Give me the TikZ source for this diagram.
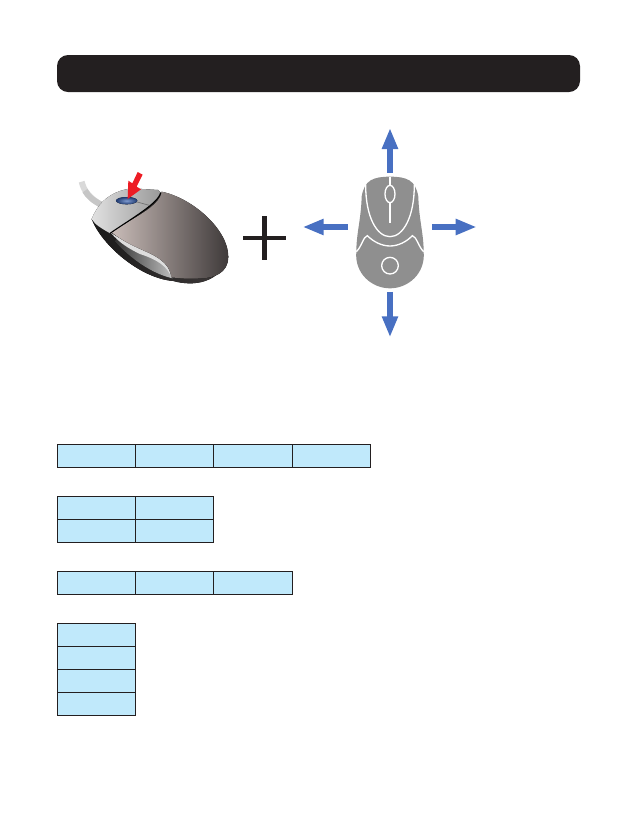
\documentclass[tikz,border=0pt]{standalone}
\usepackage{tikz}
\usepackage{xcolor}
\usetikzlibrary{arrows.meta}
\definecolor{bannerblack}{HTML}{231F20}
\definecolor{cellblue}{HTML}{C0E9FB}
\definecolor{movegray}{HTML}{8F8F8F}
\definecolor{moveblue}{HTML}{4870C2}
\definecolor{clickred}{HTML}{ED1C24}
\definecolor{bodylight}{HTML}{C9BCB8}
\definecolor{bodymid}{HTML}{86797A}
\definecolor{bodydark}{HTML}{3F3A3A}
\definecolor{buttonlight}{HTML}{7F9BD0}
\definecolor{buttondark}{HTML}{1F3A70}
\newcommand\cellw{78.3}
\newcommand\cellh{23}
\newcommand\startleft{57.3}
\tikzset{
    zoomed/.style = {x=0.02cm/3, y=-0.02cm/3},
    tablecell/.style = {draw=bannerblack, fill=cellblue, line width=0.6pt},
    movearrow/.style = {moveblue, line width=0.12cm, -{Triangle[width=0.3cm,length=0.42cm]}},
    whiteline/.style = {white, line width=0.75pt},
}
\begin{document}
\begin{tikzpicture}[x=0.02cm,y=-0.02cm]
         \useasboundingbox (0,0) rectangle (633,816);
         % --- Banner
         \fill[bannerblack, rounded corners=0.22cm] (57,55) rectangle (580,92);
         % --- Photo of the mouse
         \begin{scope}[shift={(60,150)},zoomed]
           % --- Cable
           \draw[white!85!black, line width=0.12cm] (65,95) .. controls (72,125) and (90,145) .. (125,165);
           \draw[gray!45, line width=0.12cm] (75,122) .. controls (85,140) and (100,152) .. (125,165);
           % --- Dark base
           \fill[left color=black!90, right color=bodydark] (95,207) .. controls (125,285) and (240,385) .. (340,393) .. controls (400,410) and (480,400) .. (505,320) -- (300,130) -- cycle;
           \fill[left color=black!80, right color=black!25] (165,275) .. controls (225,340) and (290,375) .. (338,385) -- (325,340) -- (170,255) -- cycle;
           \fill[black!13] (152,248) .. controls (210,285) and (250,300) .. (295,318) .. controls (325,335) and (332,360) .. (334,382) .. controls (322,350) and (295,330) .. (240,312) .. controls (205,295) and (180,280) .. (152,248) -- cycle;
           % --- Brown body
           \fill[left color=bodylight, middle color=bodymid, right color=bodydark] (305,125) .. controls (400,145) and (505,240) .. (505,320) .. controls (505,370) and (460,385) .. (420,385) .. controls (390,388) and (360,385) .. (334,382) .. controls (330,350) and (310,330) .. (270,310) .. controls (225,290) and (190,275) .. (155,247) .. controls (215,205) and (300,170) .. (305,125) -- cycle;
           % --- Light shell
           \fill[left color=black!12, right color=black!40] (95,207) .. controls (110,170) and (140,125) .. (215,115) -- (295,120) -- (302,128) .. controls (295,160) and (215,205) .. (150,250) .. controls (125,235) and (105,225) .. (95,207) -- cycle;
           \draw[black, line width=0.6pt] (302,128) .. controls (295,160) and (215,205) .. (150,250);
           \draw[black!55, line width=0.4pt] (228,155) -- (268,166);
           % --- Wheel and red arrow
           \fill[inner color=buttonlight, outer color=buttondark] (200,152) ellipse [x radius=32, y radius=11];
           \fill[clickred] (203,147) -- (205,92) -- (217,100) -- (233,66) -- (248,74) -- (230,110) -- (243,118) -- cycle;
         \end{scope}
         % --- Plus sign
         \draw[bannerblack, line width=0.094cm] (243,238) -- (286,238);
         \draw[bannerblack, line width=0.094cm] (264.5,216) -- (264.5,260);
         % --- Grey mouse with its arrows
         \begin{scope}[shift={(295,120)},zoomed]
           \fill[movegray] (285,170) .. controls (335,170) and (362,180) .. (370,230) .. controls (372,300) and (386,340) .. (386,395) .. controls (392,460) and (340,505) .. (285,505) .. controls (230,505) and (178,460) .. (184,395) .. controls (184,340) and (198,300) .. (200,230) .. controls (208,180) and (235,170) .. (285,170) -- cycle;
           \draw[whiteline] (212,195) .. controls (212,290) and (245,350) .. (285,350) .. controls (325,350) and (358,290) .. (358,195);
           \draw[whiteline] (285,170) -- (285,310);
           \draw[whiteline, fill=movegray] (285,222) ellipse [x radius=15, y radius=26];
           \draw[whiteline] (184,395) .. controls (200,380) and (205,350) .. (217,347) .. controls (235,365) and (260,378) .. (285,378) .. controls (310,378) and (335,365) .. (352,347) .. controls (365,350) and (370,380) .. (386,395);
           \draw[whiteline] (285,437) circle [radius=25];
           \draw[movearrow] (285,158) -- (285,24);
           \draw[movearrow] (285,516) -- (285,652);
           \draw[movearrow] (158,321) -- (23,321);
           \draw[movearrow] (411,321) -- (545,321);
         \end{scope}
         % --- Key tables
         \foreach \col in {0,1,2,3}
           \draw[tablecell] (\startleft+\col*\cellw,444.3) rectangle ++(\cellw,\cellh);
         \foreach \col in {0,1}
           \foreach \row in {0,1}
             \draw[tablecell] (\startleft+\col*\cellw,496.3+\row*\cellh) rectangle ++(\cellw,\cellh);
         \foreach \col in {0,1,2}
           \draw[tablecell] (\startleft+\col*\cellw,571.3) rectangle ++(\cellw,\cellh);
         \foreach \row in {0,1,2,3}
           \draw[tablecell] (\startleft,623.3+\row*\cellh) rectangle ++(\cellw,\cellh);
       \end{tikzpicture}
\end{document}
